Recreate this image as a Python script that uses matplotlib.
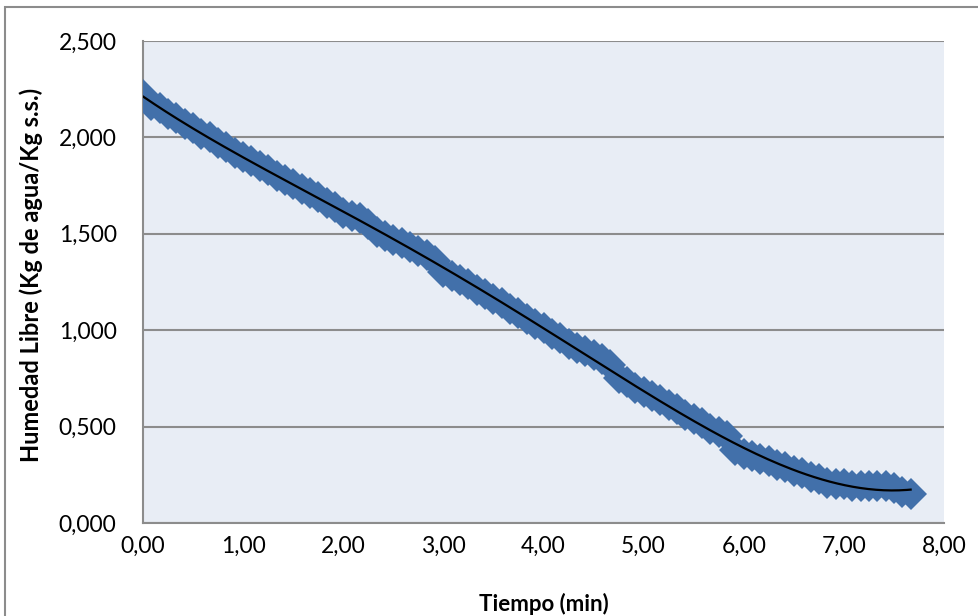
import matplotlib
matplotlib.use('Agg')
import matplotlib.pyplot as plt
import numpy as np
from matplotlib.ticker import FuncFormatter
from matplotlib.patches import Rectangle

# tiempo en segundos (cada 5 s) y humedad libre (Kg agua / Kg s.s.)
tiempo_s = [0, 5, 10, 15, 20, 25, 30, 35, 40, 45,
            50, 55, 60, 65, 70, 75, 80, 85, 90, 95,
            100, 105, 110, 115, 120, 125, 130, 135, 140, 145,
            150, 155, 160, 165, 170, 175, 180, 185, 190, 195,
            200, 205, 210, 215, 220, 225, 230, 235, 240, 245,
            250, 255, 260, 265, 270, 275, 280, 285, 290, 295,
            300, 305, 310, 315, 320, 325, 330, 335, 340, 345,
            350, 355, 360, 365, 370, 375, 380, 385, 390, 395,
            400, 405, 410, 415, 420, 425, 430, 435, 440, 445,
            450, 455, 460]
humedad = [2.22, 2.17, 2.15, 2.12, 2.10, 2.07, 2.05, 2.02, 2.00, 1.97,
           1.95, 1.92, 1.90, 1.88, 1.85, 1.83, 1.80, 1.78, 1.76, 1.73,
           1.71, 1.69, 1.66, 1.64, 1.61, 1.59, 1.58, 1.55, 1.51, 1.49,
           1.47, 1.45, 1.43, 1.41, 1.39, 1.36, 1.30, 1.28, 1.26, 1.24,
           1.21, 1.19, 1.16, 1.14, 1.11, 1.09, 1.06, 1.03, 1.01, 0.98,
           0.96, 0.93, 0.91, 0.89, 0.87, 0.85, 0.82, 0.75, 0.73, 0.70,
           0.68, 0.66, 0.64, 0.61, 0.59, 0.56, 0.54, 0.52, 0.49, 0.47,
           0.45, 0.38, 0.36, 0.35, 0.33, 0.32, 0.30, 0.29, 0.27, 0.26,
           0.24, 0.23, 0.21, 0.20, 0.20, 0.19, 0.19, 0.19, 0.19, 0.19,
           0.18, 0.16, 0.15]

x = np.array(tiempo_s) / 60.0
y = np.array(humedad)

plt.rcParams['font.family'] = ['Lato', 'DejaVu Sans']

fig = plt.figure(figsize=(9.79, 6.16), dpi=100)
ax = fig.add_axes([143/979, 1 - 523/616, (944 - 143)/979, (523 - 41)/616])
ax.set_facecolor('#E8EDF5')

# marco del grafico
fig.patches.append(Rectangle((5/979, -0.1), 1.2, 1 - 7/616 + 0.1, transform=fig.transFigure,
                             fill=False, edgecolor='#8C8C8C', lw=1.5))

ax.plot(x, y, linestyle='none', marker='D', markersize=16.5,
        markerfacecolor='#4270AA', markeredgewidth=0, zorder=3)

# linea de tendencia polinomica
coef = np.polyfit(x, y, 4)
xt = np.linspace(x[0], x[-1], 200)
ax.plot(xt, np.polyval(coef, xt), color='black', lw=1.6, zorder=4)

ax.set_xlim(0, 8)
ax.set_ylim(0, 2.5)
ax.set_xticks(np.arange(0, 9, 1))
ax.set_yticks(np.arange(0, 2.51, 0.5))
ax.xaxis.set_major_formatter(FuncFormatter(lambda v, p: f'{v:.2f}'.replace('.', ',')))
ax.yaxis.set_major_formatter(FuncFormatter(lambda v, p: f'{v:.3f}'.replace('.', ',')))
ax.tick_params(axis='both', length=0, labelsize=16.5)
ax.tick_params(axis='y', pad=19)
ax.tick_params(axis='x', pad=9)

ax.yaxis.grid(True, color='#8C8C8C', lw=1.5)
ax.set_axisbelow(True)
for s in ['top', 'right']:
    ax.spines[s].set_visible(False)
for s in ['left', 'bottom']:
    ax.spines[s].set_color('#8C8C8C')
    ax.spines[s].set_linewidth(1.5)

ax.set_xlabel('Tiempo (min)', fontsize=16, fontweight='bold')
ax.xaxis.set_label_coords(0.5, -(604 - 523) / (523 - 41), transform=ax.transAxes)
ax.xaxis.label.set_va('center')
ax.set_ylabel('Humedad Libre (Kg de agua/Kg s.s.)', fontsize=17, fontweight='bold')
ax.yaxis.set_label_coords(-(143 - 31) / (944 - 143), (523 - 275) / (523 - 41), transform=ax.transAxes)
ax.yaxis.label.set_va('center')

fig.savefig('out.png', dpi=100)
